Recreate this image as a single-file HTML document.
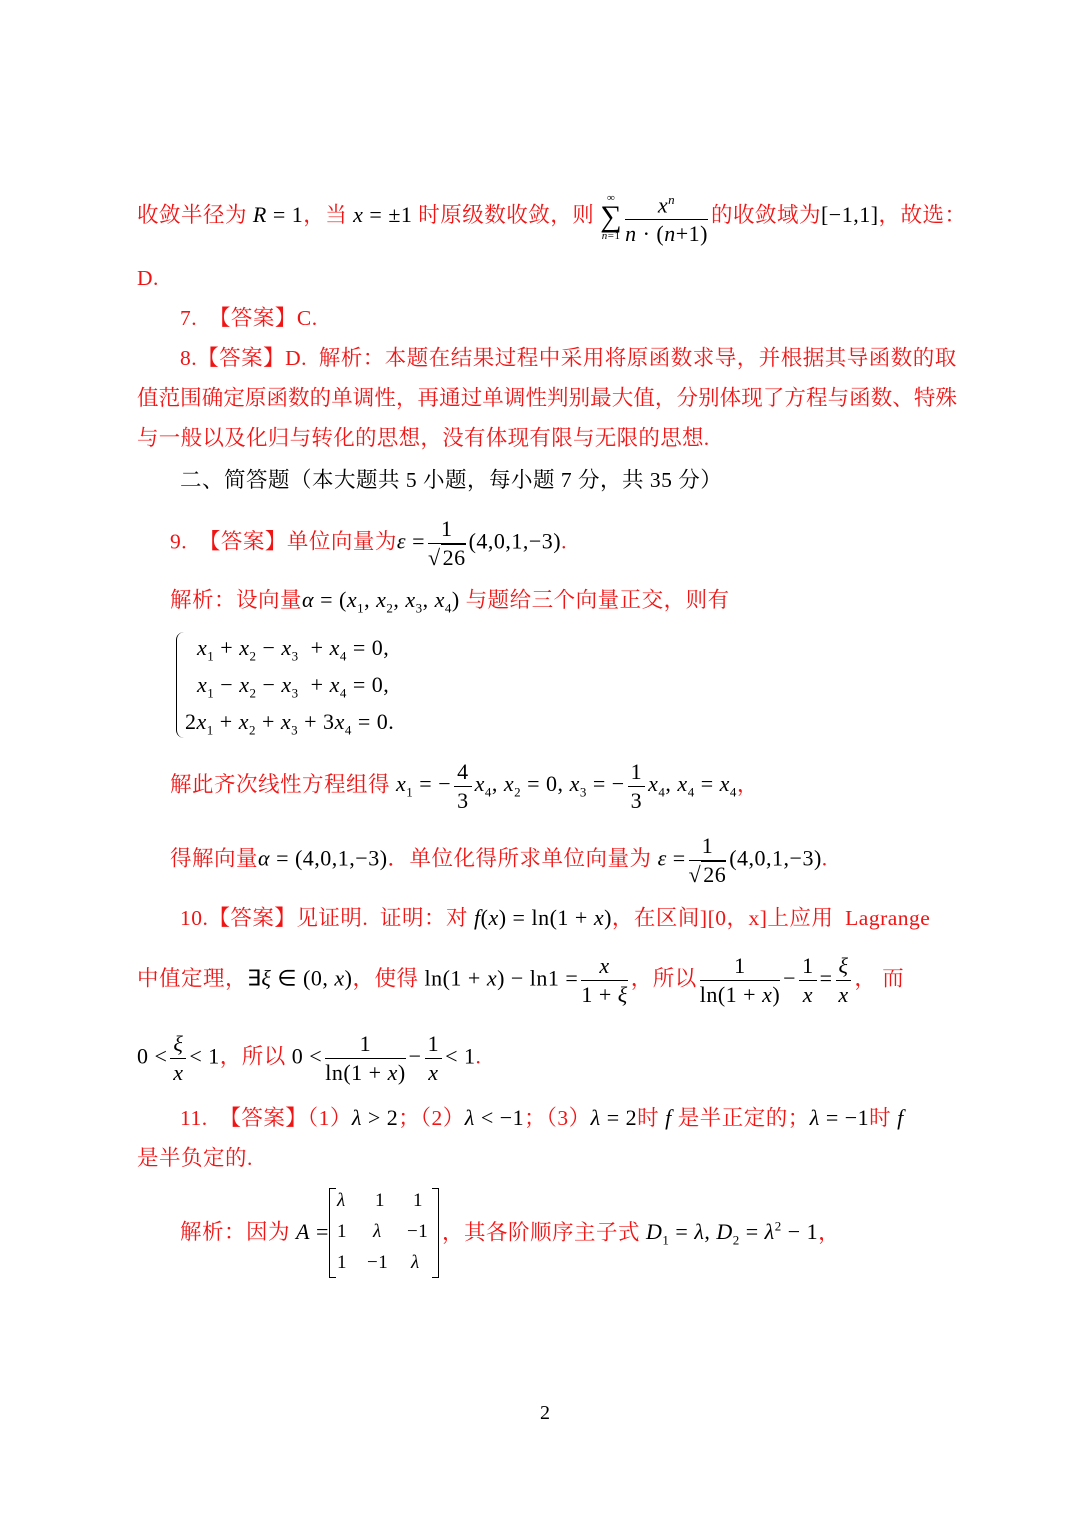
<!DOCTYPE html>
<html><head><meta charset="utf-8">
<style>
body{margin:0;background:#fff;}
#p{position:relative;width:1092px;height:1535px;overflow:hidden;background:#fff;}
.l{position:absolute;white-space:nowrap;font-family:"Liberation Serif","Noto Serif CJK SC","Noto Sans CJK SC",serif;font-size:21.5px;color:#f01414;line-height:30px;letter-spacing:0.5px;}
.m{font-family:"Liberation Serif",serif;color:#000;font-size:22px;letter-spacing:0.5px;}
.i{font-style:italic;}
.k{color:#000;}
sub,sup{font-size:13px;}
.f{display:inline-flex;flex-direction:column;vertical-align:middle;text-align:center;color:#000;font-family:"Liberation Serif",serif;font-size:22px;line-height:28px;margin:0 3px;}
.f>span:first-child{border-bottom:1.3px solid #000;padding:0 3px;}
.sq{border-top:1.3px solid #000;padding-left:2px;}
</style></head><body><div id="p">

<div class="l" style="left:137px;top:186px;">收敛半径为 <span class="m"><span class="i">R</span> = 1</span>，当 <span class="m"><span class="i">x</span> = ±1</span> 时原级数收敛，则 <span style="display:inline-flex;flex-direction:column;vertical-align:middle;align-items:center;color:#000;font-family:'Liberation Serif',serif;line-height:12px;"><span style="font-size:11px">∞</span><span style="font-size:30px;line-height:26px">∑</span><span style="font-size:11px;font-style:italic">n<span style="font-style:normal">=1</span></span></span><span class="f"><span class="i">x<sup>n</sup></span><span><span class="i">n</span> · (<span class="i">n</span>+1)</span></span>的收敛域为<span class="m">[−1,1]</span>，故选：</div>

<div class="l" style="left:137px;top:263px;">D.</div>
<div class="l" style="left:180px;top:303px;">7.&nbsp;&nbsp;【答案】C.</div>
<div class="l" style="left:180px;top:343px;">8.【答案】D.&nbsp;&nbsp;解析：本题在结果过程中采用将原函数求导，并根据其导函数的取</div>
<div class="l" style="left:137px;top:383px;letter-spacing:0.08px;">值范围确定原函数的单调性，再通过单调性判别最大值，分别体现了方程与函数、特殊</div>
<div class="l" style="left:137px;top:423px;letter-spacing:0.3px;">与一般以及化归与转化的思想，没有体现有限与无限的思想.</div>
<div class="l k" style="left:180px;top:465px;">二、简答题（本大题共 5 小题，每小题 7 分，共 35 分）</div>

<div class="l" style="left:170px;top:515px;">9.&nbsp;&nbsp;【答案】单位向量为<span class="m"><span class="i">ε</span> =</span><span class="f"><span>1</span><span>√<span class="sq">26</span></span></span><span class="m">(4,0,1,−3)</span>.</div>

<div class="l" style="left:170px;top:585px;">解析：设向量<span class="m"><span class="i">α</span> = (<span class="i">x</span><sub>1</sub>, <span class="i">x</span><sub>2</sub>, <span class="i">x</span><sub>3</sub>, <span class="i">x</span><sub>4</sub>)</span> 与题给三个向量正交，则有</div>

<div style="position:absolute;left:176px;top:632px;width:10px;height:106px;border-left:1.3px solid #000;border-radius:8px 0 0 8px;"></div>
<div class="l m" style="left:197px;top:633px;"><span class="i">x</span><sub>1</sub> + <span class="i">x</span><sub>2</sub> − <span class="i">x</span><sub>3</sub> &nbsp;+ <span class="i">x</span><sub>4</sub> = 0,</div>
<div class="l m" style="left:197px;top:670px;"><span class="i">x</span><sub>1</sub> − <span class="i">x</span><sub>2</sub> − <span class="i">x</span><sub>3</sub> &nbsp;+ <span class="i">x</span><sub>4</sub> = 0,</div>
<div class="l m" style="left:185px;top:707px;">2<span class="i">x</span><sub>1</sub> + <span class="i">x</span><sub>2</sub> + <span class="i">x</span><sub>3</sub> + 3<span class="i">x</span><sub>4</sub> = 0.</div>

<div class="l" style="left:170px;top:758px;">解此齐次线性方程组得<span class="m"> <span class="i">x</span><sub>1</sub> = −</span><span class="f"><span>4</span><span>3</span></span><span class="m"><span class="i">x</span><sub>4</sub>, <span class="i">x</span><sub>2</sub> = 0, <span class="i">x</span><sub>3</sub> = −</span><span class="f"><span>1</span><span>3</span></span><span class="m"><span class="i">x</span><sub>4</sub>, <span class="i">x</span><sub>4</sub> = <span class="i">x</span><sub>4</sub></span>，</div>

<div class="l" style="left:170px;top:832px;">得解向量<span class="m"><span class="i">α</span> = (4,0,1,−3)</span>．单位化得所求单位向量为<span class="m"> <span class="i">ε</span> =</span><span class="f"><span>1</span><span>√<span class="sq">26</span></span></span><span class="m">(4,0,1,−3)</span>.</div>

<div class="l" style="left:180px;top:903px;">10.【答案】见证明.&nbsp;&nbsp;证明：对<span class="m"> <span class="i">f</span>(<span class="i">x</span>) = ln(1 + <span class="i">x</span>)</span>，在区间][0，x]上应用&nbsp;&nbsp;Lagrange</div>

<div class="l" style="left:137px;top:952px;">中值定理，<span class="m">∃<span class="i">ξ</span> ∈ (0, <span class="i">x</span>)</span>，使得<span class="m"> ln(1 + <span class="i">x</span>) − ln1 =</span><span class="f"><span class="i">x</span><span>1 + <span class="i">ξ</span></span></span>，所以<span class="f"><span>1</span><span>ln(1 + <span class="i">x</span>)</span></span><span class="m">−</span><span class="f"><span>1</span><span class="i">x</span></span><span class="m">=</span><span class="f"><span class="i">ξ</span><span class="i">x</span></span>，&nbsp;而</div>

<div class="l" style="left:137px;top:1030px;"><span class="m">0 &lt;</span><span class="f"><span class="i">ξ</span><span class="i">x</span></span><span class="m">&lt; 1</span>，所以<span class="m"> 0 &lt;</span><span class="f"><span>1</span><span>ln(1 + <span class="i">x</span>)</span></span><span class="m">−</span><span class="f"><span>1</span><span class="i">x</span></span><span class="m">&lt; 1</span>.</div>

<div class="l" style="left:180px;top:1103px;">11.&nbsp;&nbsp;【答案】（1）<span class="m"><span class="i">λ</span> &gt; 2</span>；（2）<span class="m"><span class="i">λ</span> &lt; −1</span>；（3）<span class="m"><span class="i">λ</span> = 2</span>时<span class="m"> <span class="i">f</span> </span> 是半正定的；<span class="m"><span class="i">λ</span> = −1</span>时<span class="m"> <span class="i">f</span></span></div>
<div class="l" style="left:137px;top:1143px;">是半负定的.</div>

<div class="l" style="left:180px;top:1217px;">解析：因为<span class="m"> <span class="i">A</span> =</span></div>
<div style="position:absolute;left:329px;top:1188px;width:6px;height:88px;border:1.3px solid #000;border-right:none;"></div>
<div style="position:absolute;left:432px;top:1188px;width:6px;height:88px;border:1.3px solid #000;border-left:none;"></div>
<div class="l m" style="left:337px;top:1186px;font-size:19px;"><span class="i">λ</span><span style="position:absolute;left:38px">1</span><span style="position:absolute;left:76px">1</span></div>
<div class="l m" style="left:337px;top:1217px;font-size:19px;">1<span style="position:absolute;left:36px" class="i">λ</span><span style="position:absolute;left:70px">−1</span></div>
<div class="l m" style="left:337px;top:1248px;font-size:19px;">1<span style="position:absolute;left:30px">−1</span><span style="position:absolute;left:74px" class="i">λ</span></div>
<div class="l" style="left:442px;top:1212px;">，其各阶顺序主子式<span class="m"> <span class="i">D</span><sub>1</sub> = <span class="i">λ</span>, <span class="i">D</span><sub>2</sub> = <span class="i">λ</span><sup>2</sup> − 1</span>，</div>

<div class="l k" style="left:540px;top:1398px;font-size:20px;">2</div>
</div></body></html>
